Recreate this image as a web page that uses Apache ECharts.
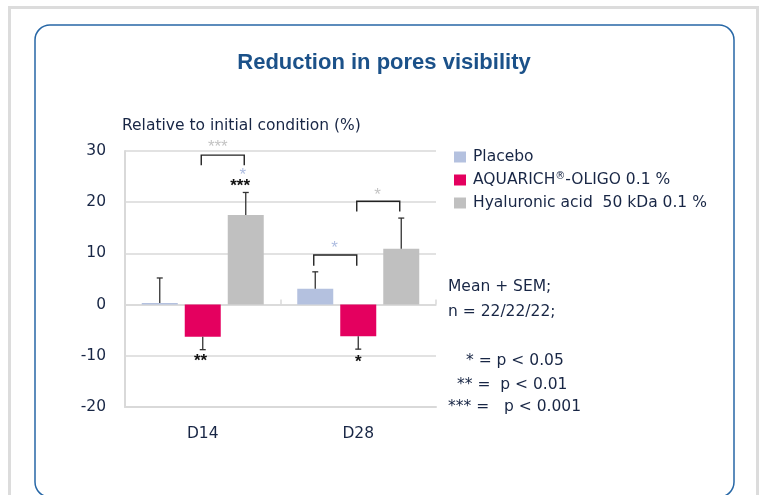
<!DOCTYPE html>
<html><head><meta charset="utf-8">
<script src="https://cdn.jsdelivr.net/npm/echarts@6/dist/echarts.min.js"></script>
<style>html,body{margin:0;padding:0;background:#fff}#c{width:761px;height:495px}</style>
</head><body><div id="c"></div>
<script>
// ---------- data ----------
const categories = ['D14', 'D28'];
const seriesNames = ['Placebo', 'AQUARICH®-OLIGO 0.1 %', 'Hyaluronic acid  50 kDa 0.1 %'];
const placebo = [0.3, 3.1];
const aquarich = [-6.3, -6.2];
const hyaluronic = [17.5, 10.9];
const placeboSem = [4.9, 3.3];
const aquarichSem = [2.5, 2.5];
const hyaluronicSem = [4.4, 6.0];
const yTickMin = -20, yTickMax = 30, yTickStep = 10;
// brackets: [category, fromSlot, toSlot, topValue, legEndValue]
const brackets = [
  [0, 1, 2, 29.2, 27.2],
  [1, 0, 1, 9.7, 7.6],
  [1, 1, 2, 20.2, 18.2]
];
// stars: [category, slot, value, text, comparedTo]
const stars = [
  [0, 1.35, 31.4, '***', 'hyaluronic'],
  [0, 1.93, 25.8, '*', 'placebo'],
  [0, 1.87, 23.7, '***', 'baseline'],
  [0, 0.95, -10.45, '**', 'baseline'],
  [1, 0.45, 11.5, '*', 'placebo'],
  [1, 1.45, 21.9, '*', 'hyaluronic'],
  [1, 1.0, -10.6, '*', 'baseline']
];
const notes = ['Mean + SEM;', 'n = 22/22/22;', '* = p < 0.05', '** =  p < 0.01', '*** =   p < 0.001'];
const titleText = 'Reduction in pores visibility';
const yAxisTitle = 'Relative to initial condition (%)';

// ---------- style ----------
const COLORS = ['#b4c1df', '#e4005f', '#c0c0c0'];
const STAR_COLORS = { placebo: '#aebde0', hyaluronic: '#c4c4c4', baseline: '#111111' };
const TEXT = '#182645';
const GRID = '#d9d9d9';
const BODY_FONT = 'DejaVu Sans';
const STEP = 43; // px distance between bar centres
const BAR_W = 36;

const values = [placebo, aquarich, hyaluronic];
const sems = [placeboSem, aquarichSem, hyaluronicSem];
const errData = [];
values.forEach((arr, s) => arr.forEach((v, i) => {
  const sign = v >= 0 ? 1 : -1;
  errData.push([i, s, v, v + sign * sems[s][i]]);
}));

const chart = echarts.init(document.getElementById('c'), null, { renderer: 'canvas' });

const noteY = [287, 312, 361, 385, 407];
const noteX = [448, 448, 466, 457, 448];

chart.setOption({
  animation: false,
  backgroundColor: '#fff',
  title: {
    text: titleText, left: 379, top: 47, textAlign: 'center',
    textStyle: { fontFamily: 'Liberation Sans', fontWeight: 'bold', fontSize: 22, color: '#1b5189' }
  },
  grid: { left: 125, right: 325, top: 151, bottom: 88 },
  legend: {
    orient: 'vertical', left: 449, top: 143,
    data: seriesNames,
    icon: 'rect', itemWidth: 12, itemHeight: 11, itemGap: 5,
    selectedMode: false,
    formatter: n => n.replace('®', '{sup|®}'),
    textStyle: {
      fontFamily: BODY_FONT, fontSize: 15.5, color: TEXT, padding: [0, 0, 0, 2], lineHeight: 18,
      rich: { sup: { fontFamily: BODY_FONT, fontSize: 10, color: TEXT, padding: [0, 0, 7, 0] } }
    }
  },
  xAxis: [{
    type: 'category', data: categories, position: 'bottom',
    axisLine: { onZero: false, lineStyle: { color: GRID, width: 2 } },
    axisTick: { show: false },
    axisLabel: { margin: 19, fontFamily: BODY_FONT, fontSize: 15.5, color: TEXT }
  }, {
    type: 'category', data: categories, position: 'bottom',
    axisLine: { show: true, onZero: true, lineStyle: { color: GRID, width: 1.5 } },
    axisTick: { show: true, inside: true, length: 5, lineStyle: { color: GRID, width: 1.5 } },
    axisLabel: { show: false }
  }],
  yAxis: {
    type: 'value', min: yTickMin, max: yTickMax, interval: yTickStep,
    name: yAxisTitle, nameLocation: 'end', nameGap: 17,
    nameTextStyle: { fontFamily: BODY_FONT, fontSize: 15.5, color: TEXT, align: 'left', padding: [0, 0, 0, -3] },
    axisLine: { show: true, lineStyle: { color: GRID, width: 2 } },
    axisTick: { show: false },
    splitLine: { lineStyle: { color: GRID, width: 1.5 } },
    axisLabel: { margin: 19, fontFamily: BODY_FONT, fontSize: 15.5, color: TEXT }
  },
  series: [
    ...values.map((arr, s) => ({
      name: seriesNames[s], type: 'bar', data: arr, barWidth: BAR_W, barGap: (7 / 36 * 100) + '%',
      itemStyle: { color: COLORS[s] }, z: 2
    })),
    {
      type: 'custom', name: 'err', data: errData, clip: false, z: 5,
      renderItem(params, api) {
        const c = api.value(0), slot = api.value(1);
        const p0 = api.coord([c, api.value(2)]), p1 = api.coord([c, api.value(3)]);
        const x = p0[0] + (slot - 1) * STEP;
        const st = { stroke: '#333', lineWidth: 1.3 };
        return { type: 'group', children: [
          { type: 'line', shape: { x1: x, y1: p0[1], x2: x, y2: p1[1] }, style: st },
          { type: 'line', shape: { x1: x - 3, y1: p1[1], x2: x + 3, y2: p1[1] }, style: st }
        ] };
      }
    },
    {
      type: 'custom', name: 'brackets', data: brackets, clip: false, z: 5,
      renderItem(params, api) {
        const c = api.value(0);
        const top = api.coord([c, api.value(3)]);
        const leg = api.coord([c, api.value(4)]);
        const xa = top[0] + (api.value(1) - 1) * STEP - 1.5;
        const xb = top[0] + (api.value(2) - 1) * STEP - 1.5;
        return { type: 'polyline', shape: { points: [[xa, leg[1]], [xa, top[1]], [xb, top[1]], [xb, leg[1]]] },
          style: { stroke: '#222', lineWidth: 1.4, fill: null } };
      }
    },
    {
      type: 'custom', name: 'stars', data: stars.map(s => [s[0], s[1], s[2]]), clip: false, z: 6,
      renderItem(params, api) {
        const s = stars[params.dataIndex];
        const p = api.coord([s[0], s[2]]);
        const black = s[4] === 'baseline';
        return { type: 'text', x: p[0] + (s[1] - 1) * STEP, y: p[1] + 3,
          style: { text: s[3], align: 'center', verticalAlign: 'middle', fill: STAR_COLORS[s[4]],
            font: (black ? 'bold ' : '') + '17px "Liberation Sans"' } };
      }
    }
  ],
  graphic: [
    { type: 'rect', shape: { x: 9.5, y: 7.5, width: 748, height: 520 }, style: { fill: null, stroke: '#dcdcdc', lineWidth: 3 }, z: -10 },
    { type: 'rect', shape: { x: 35, y: 25, width: 699, height: 472, r: 15 }, style: { fill: null, stroke: '#2767a6', lineWidth: 1.5 }, z: -9 },
    ...notes.map((t, i) => ({
      type: 'text', x: noteX[i], y: noteY[i],
      style: { text: t, fill: TEXT, font: '15.5px "' + BODY_FONT + '"', verticalAlign: 'middle', align: 'left' }
    }))
  ]
});
</script></body></html>
